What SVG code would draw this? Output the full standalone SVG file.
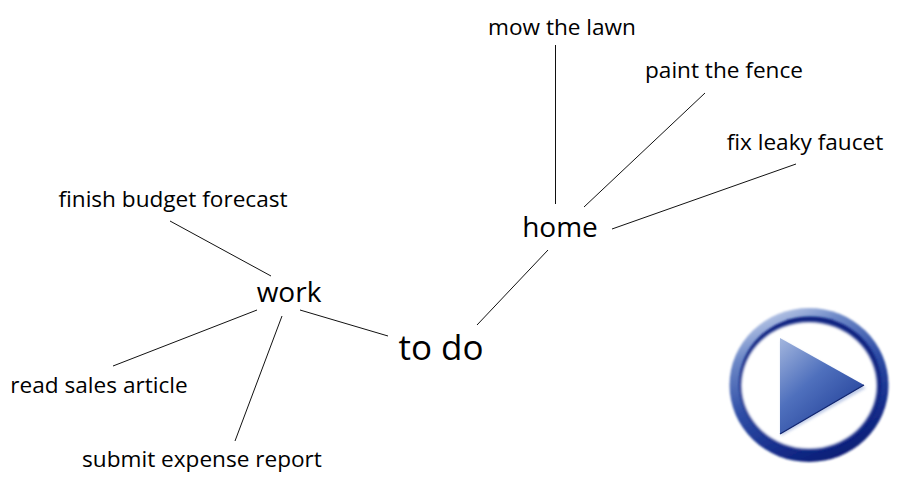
<svg xmlns="http://www.w3.org/2000/svg" width="919" height="500" viewBox="0 0 919 500">
<style>
text{font-family:"Open Sans","Noto Sans","Liberation Sans",sans-serif;fill:#000;text-anchor:middle}
.leaf{font-size:22.600px}
.mid{font-size:28px}
.root{font-size:35px}
#connectors line{stroke:#111;stroke-width:1}
</style>
<defs>
<linearGradient id="ring" x1="0.25" y1="0" x2="0.7" y2="1">
<stop offset="0" stop-color="#c6d2ec"/><stop offset="0.2" stop-color="#6f8ac8"/><stop offset="0.5" stop-color="#2f4ea6"/><stop offset="0.8" stop-color="#142c8a"/><stop offset="1" stop-color="#0a1b72"/>
</linearGradient>
<linearGradient id="tri" x1="0" y1="0" x2="0.8" y2="1">
<stop offset="0" stop-color="#a3b6de"/><stop offset="0.45" stop-color="#4f70bd"/><stop offset="1" stop-color="#1d3a94"/>
</linearGradient>
<filter id="soft" x="-20%" y="-20%" width="140%" height="140%"><feGaussianBlur stdDeviation="1.500"/></filter>
<filter id="tiny" x="-10%" y="-10%" width="120%" height="120%"><feGaussianBlur stdDeviation="0.800"/></filter>
</defs>
<rect width="919" height="500" fill="#fff"/>
<g id="connectors">
<line x1="555.500" y1="45" x2="555.500" y2="204"/>
<line x1="705" y1="93" x2="584" y2="207"/>
<line x1="796" y1="164" x2="612" y2="229"/>
<line x1="548" y1="250" x2="477" y2="325"/>
<line x1="300" y1="310" x2="388" y2="336"/>
<line x1="170" y1="221" x2="271" y2="276"/>
<line x1="257" y1="310" x2="113" y2="366"/>
<line x1="282" y1="316" x2="235" y2="441"/>
</g>
<g id="root"><text class="root" x="441" y="360">to do</text></g>
<g id="home"><text class="mid" x="560" y="237">home</text></g>
<g id="work"><text class="mid" x="289" y="302">work</text></g>
<g id="mow"><text class="leaf" x="562" y="35">mow the lawn</text></g>
<g id="paint"><text class="leaf" x="724" y="78">paint the fence</text></g>
<g id="faucet"><text class="leaf" x="805" y="150">fix leaky faucet</text></g>
<g id="budget"><text class="leaf" x="173" y="207">finish budget forecast</text></g>
<g id="sales"><text class="leaf" x="99" y="393">read sales article</text></g>
<g id="expense"><text class="leaf" x="202" y="467">submit expense report</text></g>
<g id="play">
<ellipse cx="809" cy="385" rx="79.500" ry="77" fill="url(#ring)" filter="url(#tiny)"/>
<ellipse cx="810" cy="384" rx="71" ry="67.500" fill="#0e2080" filter="url(#tiny)"/>
<ellipse cx="809" cy="385.500" rx="68" ry="63.500" fill="#fff" filter="url(#soft)"/>
<polygon points="780,338 865,386 780,434" fill="#7f97cf" opacity="0.5" filter="url(#soft)" transform="translate(1 2)"/>
<polygon points="780,338 864,385 780,434" fill="url(#tri)"/>
<polyline points="780,434 864,385" fill="none" stroke="#10246f" stroke-width="1.200"/>
</g>
</svg>
